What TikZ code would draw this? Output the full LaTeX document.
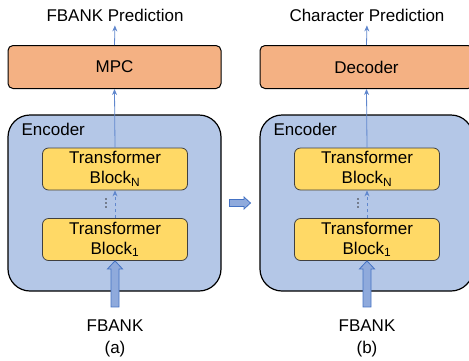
\documentclass[tikz,border=0pt]{standalone}
\usepackage{fontspec}
\setmainfont{Liberation Sans}
\usetikzlibrary{arrows.meta,calc}
\definecolor{encblue}{HTML}{B4C7E7}
\definecolor{headorange}{HTML}{F4B183}
\definecolor{blockyellow}{HTML}{FFD966}
\definecolor{flowblue}{HTML}{4472C4}
\definecolor{fatblue}{HTML}{8FAADC}
\tikzset{
  headbox/.style={draw=black, line width=1pt, fill=headorange, rounded corners=5pt, minimum width=213pt, minimum height=43pt},
  encbox/.style={draw=black, line width=1.2pt, fill=encblue, rounded corners=22pt, minimum width=213pt, minimum height=176pt},
  blockbox/.style={draw=black!75, line width=0.8pt, fill=blockyellow, rounded corners=6pt, minimum width=145pt, minimum height=42pt, align=center, inner sep=0pt},
  flow/.style={draw=flowblue!85, line width=0.8pt, -{Stealth[length=6pt,width=5pt,inset=2pt]}},
  fatarrow/.style={draw=flowblue, fill=fatblue, line width=0.8pt},
}
\begin{document}
\begin{tikzpicture}[x=1pt, y=-1pt, font=\fontsize{17}{20}\selectfont]
  \useasboundingbox (0,0) rectangle (469,360);
  \foreach \dx/\pan/\pname/\hname in {0/a/FBANK Prediction/MPC, 252/b/Character Prediction/Decoder}{
    \node[inner sep=1pt] (pred\pan) at (115+\dx,15) {\pname};
    \node[headbox] (head\pan) at (114.5+\dx,67) {\hname};
    \node[encbox] (enc\pan) at (114.5+\dx,203) {};
    \node[anchor=base west, inner sep=0pt] (enclabel\pan) at ($(enc\pan.north west)+(14,21)$) {Encoder};
    \node[blockbox] (blkN\pan) at (115+\dx,169) {Transformer\\Block\textsubscript{N}};
    \node[blockbox] (blk1\pan) at (115+\dx,239.5) {Transformer\\Block\textsubscript{1}};
    \coordinate (dots\pan) at (106+\dx,199);
    \foreach \k in {0,1,2}
      \fill[black!80] ($(dots\pan)+(0,4*\k)$) circle (0.8pt);
    \node (fbank\pan) at (115+\dx,326) {FBANK};
    \node (cap\pan) at (115+\dx,349) {(\pan)};
    \draw[flow] (blkN\pan.north) -- (head\pan.south);
    \draw[flow, shorten >=3pt] (head\pan.north) -- (pred\pan.south);
    \draw[flow, dashed, dash pattern=on 3.5pt off 2.5pt] (blk1\pan.north) -- (blkN\pan.south);
    \draw[fatarrow] ($(blk1\pan.south)+(-4,46)$) -- ($(blk1\pan.south)+(-4,8)$) -- ($(blk1\pan.south)+(-7.5,8)$)
      -- (blk1\pan.south) -- ($(blk1\pan.south)+(7.5,8)$) -- ($(blk1\pan.south)+(4,8)$) -- ($(blk1\pan.south)+(4,46)$) -- cycle;
  }
  \coordinate (mid) at ($(enca.east)!0.5!(encb.west)$);
  \draw[fatarrow] ($(mid)+(-11,-3.5)$) -- ($(mid)+(3.5,-3.5)$) -- ($(mid)+(3.5,-6)$) -- ($(mid)+(10,0)$)
    -- ($(mid)+(3.5,6)$) -- ($(mid)+(3.5,3.5)$) -- ($(mid)+(-11,3.5)$) -- cycle;
\end{tikzpicture}
\end{document}
